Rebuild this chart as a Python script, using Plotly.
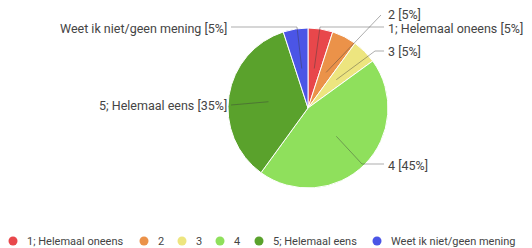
import math
import plotly.graph_objects as go

categories = ["1; Helemaal oneens", "2", "3", "4", "5; Helemaal eens", "Weet ik niet/geen mening"]
values = [5, 5, 5, 45, 35, 5]
colors = ["#e8474b", "#eb9249", "#ede57f", "#8fe05c", "#5aa22c", "#4b55e6"]

# the page body has an 8px default margin, so the figure is 8px smaller
OFF = 8
W, H = 532 - OFF, 248 - OFF
CX, CY, R = 308, 108, 80  # pie centre / radius in window px (layout)
FONT = "Roboto"


def px(x):
    return (x - OFF) / W


def py(y):
    return 1 - (y - OFF) / H


fig = go.Figure()
fig.add_trace(go.Pie(
    labels=categories, values=values, sort=False, direction="clockwise", rotation=0,
    marker=dict(colors=colors, line=dict(color="white", width=1)),
    textinfo="none", hoverinfo="label+percent", showlegend=False,
    domain=dict(x=[px(CX - R), px(CX + R)], y=[py(CY + R), py(CY - R)]),
))

# label layout: (elbow points, label x, label y, anchor)
label_layout = [
    ([(320, 27), (384, 27)], 387, 28, "left"),
    ([(381, 15)], 387, 14, "left"),
    ([(375, 51), (384, 51)], 387, 51, "left"),
    ([(362, 164), (384, 164)], 387, 165, "left"),
    ([(231, 105)], 228, 105, "right"),
    ([(297, 27), (231, 27)], 228, 28, "right"),
]

total = sum(values)
cum = 0
for i, v in enumerate(values):
    mid = (cum + v / 2) / total * 2 * math.pi
    cum += v
    sx = CX + 0.5 * R * math.sin(mid)
    sy = CY - 0.5 * R * math.cos(mid)
    pts, lx, ly, anc = label_layout[i]
    path = "M {:.4f},{:.4f} ".format(px(sx), py(sy))
    for x_, y_ in pts:
        path += "L {:.4f},{:.4f} ".format(px(x_), py(y_))
    fig.add_shape(type="path", path=path, xref="paper", yref="paper",
                  line=dict(color="rgba(60,60,60,0.42)", width=1))
    pct = round(v / total * 100)
    fig.add_annotation(x=px(lx), y=py(ly), xref="paper", yref="paper",
                       text=f"{categories[i]} [{pct}%]", showarrow=False,
                       xanchor=anc, yanchor="middle", borderpad=0,
                       font=dict(family=FONT, size=12.5, color="#444444"))

# custom legend with circular markers
legend_x = [13, 144, 182, 220, 259, 377]
LY = 241
for c, col, lx in zip(categories, colors, legend_x):
    r = 4.5
    fig.add_shape(type="circle", xref="paper", yref="paper",
                  x0=px(lx - r), x1=px(lx + r), y0=py(LY + r), y1=py(LY - r),
                  fillcolor=col, line=dict(width=0))
    fig.add_annotation(x=px(lx + 13), y=py(LY), xref="paper", yref="paper",
                       text=c, showarrow=False, xanchor="left", yanchor="middle",
                       borderpad=0,
                       font=dict(family=FONT, size=11, color="#444444"))

fig.update_layout(
    width=W, height=H, margin=dict(l=0, r=0, t=0, b=0),
    paper_bgcolor="white", plot_bgcolor="white",
    showlegend=False,
    font=dict(family=FONT),
)

fig.write_html("out.html")
